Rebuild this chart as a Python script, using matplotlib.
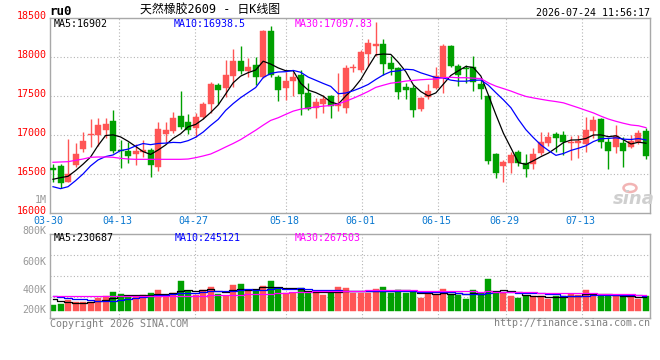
import numpy as np
import pandas as pd
import matplotlib
matplotlib.use("Agg")
import matplotlib.pyplot as plt
from matplotlib.transforms import blended_transform_factory, offset_copy
from matplotlib.patches import Ellipse

# ---------------- data ----------------
dates = ["03-30", "03-31",
         "04-01", "04-02", "04-03", "04-07", "04-08", "04-09", "04-10", "04-13", "04-14", "04-15",
         "04-16", "04-17", "04-20", "04-21", "04-22", "04-23", "04-24", "04-27", "04-28", "04-29", "04-30",
         "05-06", "05-07", "05-08", "05-11", "05-12", "05-13", "05-14", "05-15", "05-18", "05-19",
         "05-20", "05-21", "05-22", "05-25", "05-26", "05-27", "05-28", "05-29",
         "06-01", "06-02", "06-03", "06-04", "06-05", "06-08", "06-09", "06-10", "06-11", "06-12",
         "06-15", "06-16", "06-17", "06-18", "06-22", "06-23", "06-24", "06-25", "06-26", "06-29", "06-30",
         "07-01", "07-02", "07-03", "07-06", "07-07", "07-08", "07-09", "07-10", "07-13", "07-14",
         "07-15", "07-16", "07-17", "07-20", "07-21", "07-22", "07-23", "07-24"]

opens = [16585, 16611, 16406, 16619, 16825, 17004, 17004, 17068, 17184, 16812,
         16799, 16756, 16786, 16812, 16598, 17021, 17060, 17252, 17171, 17098,
         17239, 17406, 17645, 17611, 17761, 17953, 17829, 17902, 17752, 18338,
         17748, 17611, 17696, 17773, 17543, 17346, 17406, 17504, 17376, 17355,
         17859, 17838, 18043, 18145, 18171, 17927, 17859, 17620, 17607, 17342,
         17496, 17611, 17752, 18145, 17889, 17867, 17872, 17658, 17504, 16756,
         16611, 16649, 16790, 16645, 16632, 16778, 16906, 17017, 17004, 16906,
         16897, 16893, 17060, 17209, 16919, 16854, 16901, 16854, 16919, 17060]
highs = [16628, 16632, 16948, 16897, 17047, 17209, 17218, 17218, 17325, 16940,
         16910, 16884, 16936, 16833, 17175, 17175, 17299, 17568, 17273, 17286,
         17431, 17679, 17667, 17966, 18103, 18145, 17996, 18008, 18355, 18402,
         17773, 17808, 17810, 17838, 17667, 17474, 17517, 17517, 17795, 17902,
         17910, 18094, 18235, 18449, 18235, 18021, 17880, 17667, 17645, 17491,
         17658, 17876, 18171, 18158, 17914, 17902, 18017, 17709, 17517, 16769,
         16683, 16790, 16812, 16756, 16833, 17047, 17047, 17047, 17055, 16995,
         17004, 17239, 17248, 17226, 16961, 17132, 16983, 17004, 17068, 17090]
lows = [16406, 16329, 16406, 16590, 16790, 16854, 16867, 16961, 16769, 16577,
        16649, 16619, 16726, 16470, 16547, 16897, 17025, 17085, 17021, 16974,
        17209, 17282, 17397, 17496, 17624, 17782, 17752, 17645, 17731, 17752,
        17444, 17453, 17500, 17260, 17325, 17218, 17290, 17218, 17312, 17290,
        17808, 17812, 17893, 18021, 17773, 17773, 17466, 17461, 17239, 17312,
        17470, 17594, 17543, 17880, 17637, 17675, 17568, 17466, 16632, 16457,
        16406, 16521, 16607, 16470, 16568, 16748, 16867, 16790, 16748, 16683,
        16713, 16782, 16970, 16833, 16568, 16769, 16598, 16833, 16884, 16693]
closes = [16560, 16393, 16504, 16760, 16931, 17017, 17132, 17145, 16803, 16799,
          16739, 16803, 16812, 16619, 17081, 17064, 17226, 17107, 17064, 17235,
          17401, 17654, 17585, 17773, 17953, 17829, 17876, 17752, 18338, 17773,
          17581, 17696, 17748, 17534, 17338, 17423, 17466, 17372, 17397, 17867,
          17872, 18068, 18184, 18171, 17914, 17850, 17560, 17585, 17329, 17478,
          17568, 17756, 18145, 17889, 17778, 17846, 17688, 17598, 16675, 16521,
          16653, 16748, 16649, 16564, 16756, 16914, 16978, 16970, 16914, 16919,
          16927, 17064, 17196, 16919, 16803, 16991, 16803, 16927, 17034, 16739]
volumes = [96000, 113000, 181000, 142000, 147000, 142000, 215000, 255000, 317000, 283000,
           249000, 249000, 266000, 300000, 351000, 249000, 300000, 504000, 334000, 266000,
           351000, 402000, 283000, 249000, 436000, 453000, 334000, 334000, 419000, 504000,
           385000, 300000, 300000, 385000, 300000, 334000, 266000, 295000, 402000, 385000,
           306000, 306000, 306000, 368000, 402000, 300000, 351000, 300000, 317000, 215000,
           283000, 283000, 368000, 283000, 266000, 198000, 351000, 300000, 538000, 300000,
           300000, 249000, 215000, 249000, 249000, 249000, 198000, 249000, 249000, 283000,
           266000, 351000, 266000, 249000, 249000, 249000, 249000, 249000, 198000, 249000]

# moving-average values before a full window exists
ma5_head = [16436, 16457, 16474, 16547]
ma10_head = [16341, 16316, 16341, 16418, 16504, 16607, 16684, 16727, 16748]
ma30_head = [16654, 16658, 16662, 16679, 16696, 16718, 16722, 16722, 16718, 16705,
             16696, 16692, 16692, 16692, 16692, 16692, 16692, 16692, 16696, 16713,
             16735, 16760, 16803, 16850, 16895, 16945, 17005, 17065, 17130]
vma5_head = [193000, 170000, 142000, 125000]
vma10_head = [249000, 238000, 221000, 204000, 193000, 181000, 170000, 170000, 164000]
vma30_head = [255000, 255000, 255000, 255000, 255000, 255000, 255000, 255000, 255000, 255000,
              255000, 255000, 255000, 255000, 255000, 255000, 255000, 255000, 255000, 255000,
              258000, 261000, 264000, 267000, 270000, 273000, 276000, 279000, 283000]

price_ticks = [18500, 18000, 17500, 17000, 16500, 16000]
price_tick_labels = ["18500", "18000", "17500", "17000", "16500", "16000"]
date_tick_labels = ["03-30", "04-13", "04-27", "05-18", "06-01", "06-15", "06-29", "07-13"]
vol_tick_labels = ["800K", "600K", "400K", "200K"]

title_code = "ru0"
title_name = "天然橡胶2609 - 日K线图"
timestamp = "2026-07-24 11:56:17"
ma_price_texts = ["MA5:16902", "MA10:16938.5", "MA30:17097.83"]
ma_vol_texts = ["MA5:230687", "MA10:245121", "MA30:267503"]

# ---------------- derived ----------------
n = len(closes)
x = np.arange(n)
o = np.array(opens, float); c = np.array(closes, float)
h = np.array(highs, float); l = np.array(lows, float)
v = np.array(volumes, float)

def moving(series, win, head):
    m = pd.Series(series).rolling(win).mean().to_numpy()
    m[:len(head)] = head
    return m

ma5 = moving(c, 5, ma5_head)
ma10 = moving(c, 10, ma10_head)
ma30 = moving(c, 30, ma30_head)
vma5 = moving(v, 5, vma5_head)
vma10 = moving(v, 10, vma10_head)
vma30 = moving(v, 30, vma30_head)

RED = "#ff5555"
GREEN = "#00a000"
colors = [RED if cc >= oo else GREEN for oo, cc in zip(o, c)]

# ---------------- layout ----------------
W, H = 660, 360
fig = plt.figure(figsize=(6.6, 3.6), dpi=100)
fig.patch.set_facecolor("white")

def rect(lft, top, rgt, bot):
    return [lft / W, 1 - bot / H, (rgt - lft) / W, (bot - top) / H]

AX_L, AX_R = 50.3, 650.3
axp = fig.add_axes(rect(AX_L, 18.3, AX_R, 213.3))
axv = fig.add_axes(rect(AX_L, 234.3, AX_R, 318.3))

px_per_idx = 593.0 / 79.0
x0_px = 53.0
xlim = (-(x0_px - AX_L) / px_per_idx, (AX_R - x0_px) / px_per_idx)

def grid_x(idx):
    # sina draws its date grid slightly wider than the candles
    return (AX_L + 600.0 * idx / 79.0 - x0_px) / px_per_idx

date_idx = [dates.index(d) for d in date_tick_labels]
gx = [grid_x(i) for i in date_idx]

MONO = "DejaVu Sans Mono"
FS = 7.2
GRID_C = "#b4b4b4"
SPINE_C = "#a8a8a8"

for ax in (axp, axv):
    ax.set_xlim(*xlim)
    ax.set_xticks([]); ax.set_yticks([])
    for s in ax.spines.values():
        s.set_color(SPINE_C); s.set_linewidth(1.0)
    for g in gx[1:]:
        ax.axvline(g, color=GRID_C, lw=0.8, ls=(0, (1, 2)), zorder=0)

# ---- price panel ----
axp.set_ylim(16000, 18500)
for pv in price_ticks[1:-1]:
    axp.axhline(pv, color=GRID_C, lw=0.8, ls=(0, (1, 2)), zorder=0)

body_bottom = np.minimum(o, c)
body_h = np.maximum(np.abs(c - o), 10)
axp.vlines(x, l, h, colors=colors, lw=1.0, zorder=2)
axp.bar(x, body_h, bottom=body_bottom, width=0.8, color=colors, edgecolor=colors, lw=0.3, zorder=3)

axp.plot(x, ma5, color="black", lw=0.9, zorder=4)
axp.plot(x, ma10, color="#0000ff", lw=0.9, zorder=4)
axp.plot(x, ma30, color="#ff00ff", lw=0.9, zorder=4)

ytr = offset_copy(blended_transform_factory(axp.transAxes, axp.transData), fig=fig, x=0, y=2, units="dots")
for pv, lab in zip(price_ticks, price_tick_labels):
    axp.text(-0.006, pv, lab, transform=ytr, ha="right", va="center", color="#ff0000",
             fontsize=FS, family=MONO)
axp.text(-0.006, 0.068, "1M", transform=axp.transAxes, ha="right", va="center", color="#999999",
         fontsize=FS, family=MONO)

xtr = blended_transform_factory(axp.transData, axp.transAxes)
for g, lab in zip(gx, date_tick_labels):
    axp.text(g - 0.2, -0.04, lab, transform=xtr, ha="center", va="center", color="#0a78d0",
             fontsize=FS, family=MONO, clip_on=False)

# ---- volume panel ----
v_px = 17000.0  # volume per pixel
vbase_px = 310.7
axv.set_ylim(-(318.3 - vbase_px) * v_px, (vbase_px - 234.3) * v_px)
for ypx in (255.0, 276.0, 297.0):
    axv.axhline((vbase_px - ypx) * v_px, color=GRID_C, lw=0.8, ls=(0, (1, 2)), zorder=0)
axv.bar(x, v, width=0.8, color=colors, edgecolor=colors, lw=0.3, zorder=2)
axv.plot(x, vma5, color="black", lw=0.9, drawstyle="steps-mid", zorder=3)
axv.plot(x, vma10, color="#0000ff", lw=0.9, drawstyle="steps-mid", zorder=3)
axv.plot(x, vma30, color="#ff00ff", lw=0.9, drawstyle="steps-mid", zorder=3)

for ypx, lab in zip((230.8, 261.7, 290.3, 310.0), vol_tick_labels):
    axv.text(-0.007, (318.3 - ypx) / 84.0, lab, transform=axv.transAxes, ha="right", va="center",
             color="#999999", fontsize=FS, family=MONO, clip_on=False)

# ---- header / footer texts ----
def ftext(xp, yp, s, **kw):
    fig.text(xp / W, 1 - yp / H, s, **kw)

ftext(49, 11.5, title_code, ha="left", va="center", fontsize=9, family=MONO, weight="bold", color="black")
ftext(140, 10.5, title_name, ha="left", va="center", fontsize=8.6,
      family=["DejaVu Sans Mono", "Noto Sans CJK SC"], color="black")
ftext(650, 12.5, timestamp, ha="right", va="center", fontsize=FS, family=MONO, color="black")

for xp, s, col in zip((54, 174, 295), ma_price_texts, ("black", "#0000ff", "#ff00ff")):
    ftext(xp, 23.7, s, ha="left", va="center", fontsize=FS, family=MONO, color=col)
for xp, s, col in zip((54, 175, 295), ma_vol_texts, ("black", "#0000ff", "#ff00ff")):
    ftext(xp, 238.3, s, ha="left", va="center", fontsize=FS, family=MONO, color=col)

ftext(50, 324, "Copyright 2026 SINA.COM", ha="left", va="center", fontsize=FS, family=MONO, color="#808080")
ftext(650, 323.5, "http://finance.sina.com.cn", ha="right", va="center", fontsize=FS, family=MONO, color="#808080")

# sina watermark
fig.patches.append(Ellipse((630 / W, 1 - 188 / H), 13 / W, 8 / H, transform=fig.transFigure,
                           facecolor="none", edgecolor="#f2b4b4", lw=1.8))
ftext(634, 199, "sina", ha="center", va="center", fontsize=13, style="italic", weight="bold",
      color="#cfcfcf", family="DejaVu Sans")

fig.savefig("out.png", dpi=100, facecolor="white")
